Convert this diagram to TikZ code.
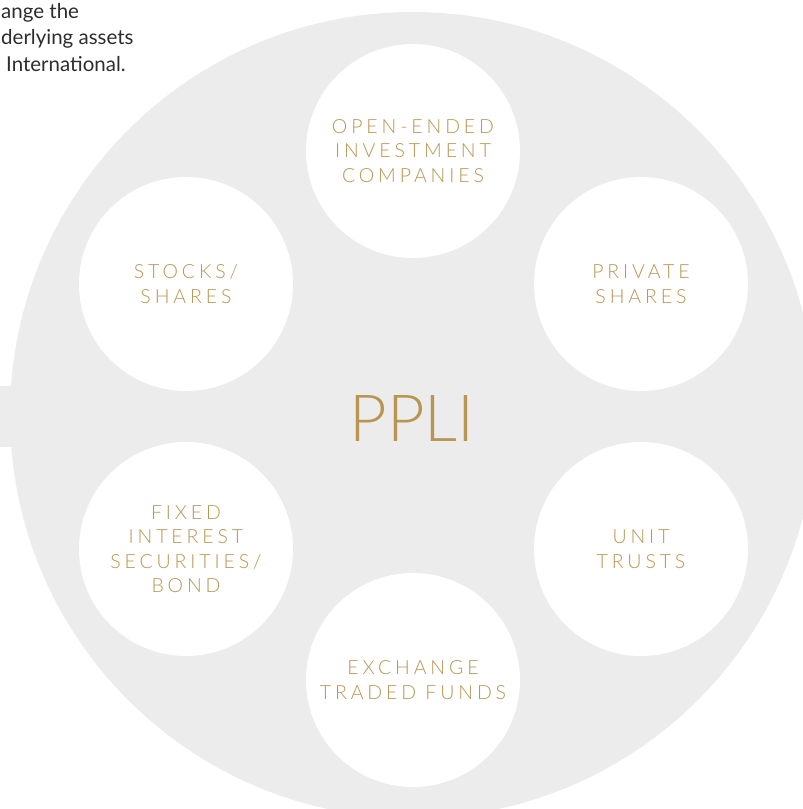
\documentclass[tikz,border=0pt]{standalone}
\usepackage{fontspec}
\setmainfont{Lato}
\IfFontExistsTF{Lato Light}{%
  \newfontfamily\spacedfont[LetterSpace=20]{Lato Light}%
  \newfontfamily\thinfont{Lato Light}%
}{%
  \newfontfamily\spacedfont[LetterSpace=20]{Lato}%
  \newfontfamily\thinfont{Lato}%
}
\definecolor{discgrey}{RGB}{236,236,236}
\definecolor{ppligold}{RGB}{184,150,82}
\definecolor{notegrey}{RGB}{45,45,45}
\tikzstyle{asset} = [circle, fill=white, minimum size=214pt, inner sep=0pt, text=ppligold, align=center, font=\spacedfont\fontsize{19.5}{24.5}\selectfont]
\tikzstyle{hub} = [text=ppligold, inner sep=0pt, font=\thinfont\fontsize{65}{65}\selectfont]
\tikzstyle{note} = [text=notegrey, inner sep=0pt, align=left, anchor=north west, font=\fontsize{20.5}{26.5}\selectfont]

\begin{document}
\begin{tikzpicture}[x=1pt, y=-1pt]
    \useasboundingbox (0,0) rectangle (803,809);
    \clip (0,0) rectangle (803,809);

    % grey disc with its tab on the left
    \fill[discgrey] (413,415) circle[radius=403pt];
    \fill[discgrey] (0,386) rectangle (40,447);

    \node[note](intro) at (1,3) {ange the\\derlying assets\\\hspace*{5pt}International.};

    \node[hub](ppli) at (412,418) {PPLI};

    \node[asset](oeic) at (413,151) {OPEN-ENDED\\INVESTMENT\\COMPANIES};
    \node[asset](stocks) at (186,284) {STOCKS/\\SHARES};
    \node[asset](private) at (641,284) {PRIVATE\\SHARES};
    \node[asset](bonds) at (186,549) {FIXED\\INTEREST\\SECURITIES/\\BOND};
    \node[asset](units) at (641,549) {UNIT\\TRUSTS};
    \node[asset](etf) at (413,680) {EXCHANGE\\TRADED FUNDS};
\end{tikzpicture}
\end{document}
